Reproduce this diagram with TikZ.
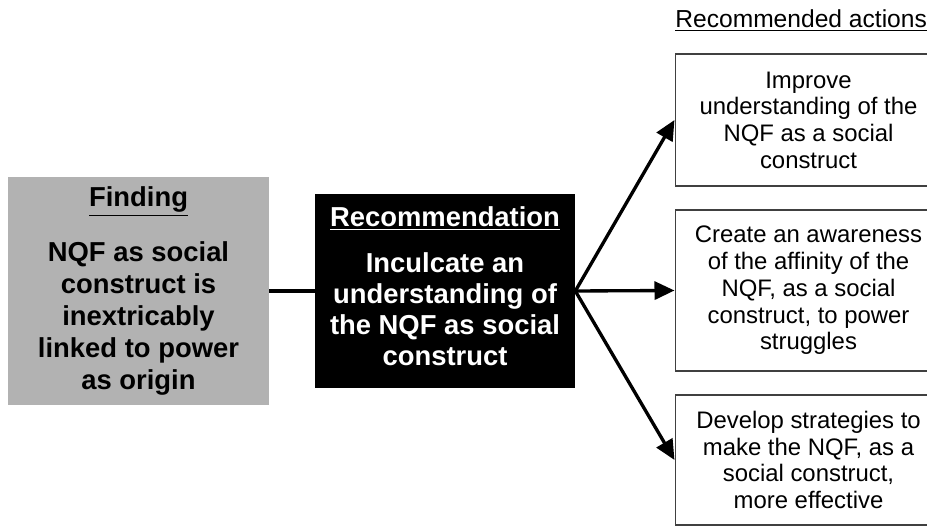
\documentclass[tikz,border=0pt]{standalone}
\usepackage{fontspec}
\setmainfont{Liberation Sans}
\usetikzlibrary{arrows.meta,positioning}

\tikzset{
  finding/.style={rectangle, fill=black!30, inner sep=0pt, align=center,
    minimum width=5.22cm, minimum height=4.56cm,
    font=\bfseries\fontsize{15.6}{18.2}\selectfont},
  reco/.style={rectangle, fill=black, text=white, inner sep=0pt, align=center,
    minimum width=5.2cm, minimum height=3.88cm, text depth=0.2cm,
    font=\bfseries\fontsize{15.6}{17.6}\selectfont},
  actbox/.style={rectangle, draw=black!75, line width=0.6pt, inner sep=0pt,
    align=center, minimum width=5.34cm,
    font=\fontsize{13.6}{15.2}\selectfont},
  fan/.style={line width=1.9pt, -{Triangle[length=0.4cm,width=0.36cm]}},
}

\begin{document}
\begin{tikzpicture}[x=0.02cm, y=-0.02cm]
		\useasboundingbox (0,0) rectangle (927,526);
		\clip (0,0) rectangle (927,526);% the action boxes run past the right edge
		\node[finding] (find) at (138.5,291) {\underline{Finding}\\[13pt]
			NQF as social\\construct is\\inextricably\\linked to power\\as origin};
		\node[reco] (rec) at (445,291) {\underline{Recommendation}\\[9pt]
			Inculcate an\\understanding of\\the NQF as social\\construct};
		\node[anchor=base west, inner sep=0pt, font=\fontsize{14}{16}\selectfont] (title) at (675,28)
			{\underline{Recommended actions}};
		\node[actbox, minimum height=2.64cm] (act_a) at (808.5,120)
			{Improve\\understanding of the\\NQF as a social\\construct};
		\node[actbox, minimum height=3.22cm] (act_b) at (808.5,290.5)
			{Create an awareness\\of the affinity of the\\NQF, as a social\\construct, to power\\struggles};
		\node[actbox, minimum height=2.6cm] (act_c) at (808.5,460)
			{Develop strategies to\\make the NQF, as a\\social construct,\\more effective};
		\draw[line width=1.9pt] (find) -- (rec);
		\draw[fan] (rec.east) -- (act_a.west);
		\draw[fan] (rec.east) -- (act_b.west);
		\draw[fan] (rec.east) -- (act_c.west);
\end{tikzpicture}
\end{document}
